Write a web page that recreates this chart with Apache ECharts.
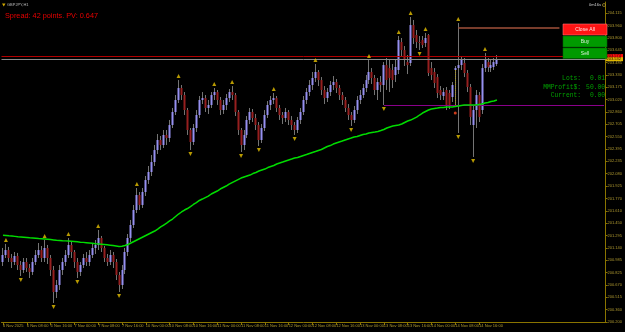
<!DOCTYPE html>
<html><head><meta charset="utf-8">
<script src="https://cdn.jsdelivr.net/npm/echarts@6/dist/echarts.min.js"></script>
<style>html,body{margin:0;padding:0;background:#000;overflow:hidden}#c{width:625px;height:332px}</style>
</head><body><div id="c"></div>
<script>
const yTickLabels = ["200.200","200.360","200.515","200.670","200.825","200.985","201.140","201.295","201.450","201.610","201.770","201.925","202.080","202.235","202.395","202.550","202.705","202.860","203.020","203.175","203.330","203.485","203.645","203.800","203.960","204.115"];
const xTickLabels = ["6 Nov 2025","6 Nov 08:00","6 Nov 16:00","7 Nov 00:00","7 Nov 08:00","7 Nov 16:00","10 Nov 00:00","10 Nov 08:00","10 Nov 16:00","11 Nov 00:00","11 Nov 08:00","11 Nov 16:00","12 Nov 00:00","12 Nov 08:00","12 Nov 16:00","13 Nov 00:00","13 Nov 08:00","13 Nov 16:00","14 Nov 00:00","14 Nov 08:00","14 Nov 16:00"];
// [open, close, low, high] per H1 bar
const candles = [
[200.960,201.049,200.910,201.138],[201.049,201.112,201.011,201.189],[201.112,201.011,200.960,201.151],[201.011,200.960,200.884,201.062],
[200.960,201.036,200.922,201.087],[201.036,200.922,200.859,201.075],[200.922,200.859,200.783,200.973],[200.859,200.960,200.821,201.011],
[200.960,200.884,200.834,201.011],[200.884,200.834,200.757,200.935],[200.834,200.960,200.796,201.011],[200.960,201.049,200.922,201.112],
[201.049,201.112,201.011,201.201],[201.112,201.011,200.960,201.163],[201.011,201.138,200.960,201.239],[201.138,201.011,200.935,201.176],
[201.011,200.859,200.783,201.049],[200.859,200.580,200.441,200.910],[200.580,200.669,200.504,200.732],[200.669,200.859,200.606,200.922],
[200.859,200.960,200.796,201.011],[200.960,201.049,200.910,201.112],[201.049,201.176,201.011,201.265],[201.176,201.087,201.011,201.214],
[201.087,200.960,200.884,201.112],[200.960,200.834,200.757,201.011],[200.834,200.922,200.783,200.960],[200.922,201.011,200.884,201.062],
[201.011,200.960,200.910,201.087],[200.960,201.049,200.910,201.112],[201.049,201.138,201.011,201.189],[201.138,201.176,201.062,201.239],
[201.176,201.265,201.112,201.366],[201.265,201.138,201.087,201.290],[201.138,201.011,200.960,201.163],[201.011,200.960,200.910,201.062],
[200.960,201.049,200.922,201.112],[201.049,200.960,200.884,201.087],[200.960,200.796,200.732,200.998],[200.796,200.669,200.580,200.834],
[200.669,200.859,200.618,200.922],[200.859,201.087,200.808,201.138],[201.087,201.265,201.036,201.315],[201.265,201.429,201.214,201.493],
[201.429,201.619,201.391,201.683],[201.619,201.809,201.581,201.898],[201.809,201.683,201.619,201.847],[201.683,201.847,201.645,201.898],
[201.847,201.999,201.797,202.050],[201.999,202.101,201.949,202.177],[202.101,202.227,202.050,202.316],[202.227,202.379,202.177,202.443],
[202.379,202.506,202.329,202.582],[202.506,202.443,202.379,202.557],[202.443,202.570,202.405,202.633],[202.570,202.532,202.443,202.633],
[202.532,202.696,202.481,202.760],[202.696,202.861,202.658,202.912],[202.861,203.013,202.823,203.076],[203.013,203.165,202.975,203.266],
[203.165,203.076,203.013,203.203],[203.076,202.886,202.823,203.114],[202.886,202.633,202.570,202.912],[202.633,202.481,202.379,202.658],
[202.481,202.658,202.443,202.709],[202.658,202.823,202.608,202.886],[202.823,203.013,202.785,203.064],[203.013,203.038,202.962,203.114],
[203.038,202.912,202.861,203.076],[202.912,202.950,202.836,203.013],[202.950,203.076,202.912,203.114],[203.076,203.114,203.013,203.165],
[203.114,203.013,202.950,203.140],[203.013,202.886,202.823,203.051],[202.886,202.950,202.836,203.013],[202.950,203.038,202.886,203.089],
[203.038,203.114,202.988,203.152],[203.114,203.076,203.013,203.190],[203.076,202.861,202.810,203.102],[202.861,202.633,202.570,202.886],
[202.633,202.443,202.354,202.658],[202.443,202.570,202.379,202.633],[202.570,202.760,202.532,202.810],[202.760,202.861,202.709,202.912],
[202.861,202.785,202.734,202.899],[202.785,202.696,202.633,202.836],[202.696,202.506,202.430,202.734],[202.506,202.658,202.468,202.709],
[202.658,202.823,202.620,202.886],[202.823,202.950,202.785,203.000],[202.950,203.013,202.886,203.064],[203.013,203.038,202.962,203.102],
[203.038,202.912,202.861,203.064],[202.912,202.823,202.760,202.950],[202.823,202.785,202.709,202.861],[202.785,202.861,202.734,202.912],
[202.861,202.760,202.696,202.886],[202.760,202.696,202.633,202.810],[202.696,202.633,202.570,202.734],[202.633,202.760,202.595,202.798],
[202.760,202.861,202.709,202.912],[202.861,203.013,202.823,203.064],[203.013,203.114,202.962,203.165],[203.114,203.203,203.064,203.266],
[203.203,203.292,203.140,203.368],[203.292,203.368,203.241,203.469],[203.368,203.266,203.190,203.393],[203.266,203.140,203.076,203.304],
[203.140,203.038,202.962,203.190],[203.038,203.114,202.988,203.165],[203.114,203.203,203.064,203.254],[203.203,203.241,203.140,203.317],
[203.241,203.165,203.102,203.279],[203.165,203.076,203.013,203.203],[203.076,203.013,202.950,203.114],[203.013,202.912,202.861,203.051],
[202.912,202.823,202.760,202.962],[202.823,202.760,202.684,202.861],[202.760,202.886,202.722,202.937],[202.886,203.013,202.836,203.064],
[203.013,203.076,202.962,203.140],[203.076,203.165,203.038,203.216],[203.165,203.266,203.114,203.330],[203.266,203.368,203.216,203.520],
[203.368,203.292,203.216,203.418],[203.292,203.140,203.076,203.330],[203.140,203.241,203.013,203.292],[203.241,203.203,203.114,203.317],
[203.203,203.456,202.950,203.494],[203.456,203.266,203.140,203.545],[203.418,203.292,203.114,203.520],[203.393,203.266,203.165,203.469],
[203.330,203.431,203.241,203.520],[203.393,203.773,203.342,203.824],[203.748,203.646,203.570,203.799],[203.646,203.520,203.444,203.697],
[203.494,203.456,203.342,203.583],[203.482,203.963,203.444,204.065],[203.963,203.799,203.723,204.027],[203.837,203.748,203.672,203.900],
[203.748,203.735,203.646,203.824],[203.773,203.710,203.672,203.824],[203.735,203.799,203.685,203.862],[203.837,203.355,203.317,203.849],
[203.418,203.330,203.266,203.494],[203.368,203.228,203.165,203.418],[203.304,203.102,203.038,203.342],[203.140,203.076,203.013,203.190],
[203.064,203.114,203.013,203.165],[203.140,202.950,202.886,203.178],[203.102,202.950,202.899,203.140],[203.051,203.203,202.988,203.241],
[203.393,203.418,202.924,203.444],[203.418,203.456,202.595,203.989],[203.456,203.520,203.393,203.570],[203.482,203.355,203.304,203.545],
[203.355,203.178,203.114,203.393],[203.178,202.798,202.696,203.216],[202.696,202.886,202.291,202.937],[202.886,203.076,202.658,203.140],
[203.076,202.798,202.734,203.114],[202.886,203.418,202.836,203.469],[203.418,203.520,203.368,203.608],[203.494,203.431,203.368,203.545],
[203.418,203.456,203.368,203.520],[203.431,203.494,203.393,203.545],[203.469,203.532,203.444,203.583]
];
const maValues = [
201.300,201.296,201.292,201.289,201.285,201.281,201.278,201.275,201.272,201.268,
201.265,201.262,201.258,201.255,201.252,201.248,201.244,201.240,201.236,201.233,
201.230,201.228,201.225,201.222,201.219,201.216,201.212,201.209,201.205,201.201,
201.197,201.193,201.190,201.186,201.182,201.178,201.173,201.168,201.162,201.156,
201.160,201.169,201.182,201.201,201.220,201.239,201.258,201.277,201.296,201.315,201.334,
201.353,201.378,201.404,201.429,201.454,201.480,201.505,201.537,201.568,201.594,
201.619,201.638,201.663,201.689,201.714,201.740,201.758,201.777,201.796,201.822,
201.841,201.860,201.885,201.904,201.923,201.948,201.967,201.986,202.005,202.024,
202.037,202.050,202.062,202.081,202.094,202.113,202.126,202.138,202.157,202.170,
202.183,202.202,202.215,202.227,202.240,202.253,202.265,202.278,202.284,202.297,
202.310,202.322,202.335,202.348,202.360,202.373,202.386,202.405,202.424,202.436,
202.455,202.468,202.481,202.493,202.506,202.519,202.531,202.544,202.550,202.563,
202.576,202.582,202.595,202.601,202.607,202.614,202.626,202.639,202.658,202.671,
202.683,202.690,202.696,202.709,202.728,202.747,202.759,202.778,202.797,202.823,
202.848,202.867,202.886,202.899,202.905,202.911,202.918,202.918,202.924,202.924,
202.924,202.930,202.937,202.943,202.949,202.949,202.949,202.949,202.949,202.956,
202.962,202.975,202.981,202.994,203.000,203.013
];
const upFractals = [1,14,22,32,45,59,71,77,91,105,123,133,137,142,153,162];
const downFractals = [6,17,25,39,63,80,86,98,117,128,140,153,158];
const askPrice = 203.574, bidPrice = 203.532;
const supportLevel = 202.950, supportFrom = 128;
const resistLevel = 203.925, resistFrom = 153, resistTo = 187;
const dotBar = 152, dotTop = 203.393, dotBottom = 202.924;
const orderMark = [152, 202.848];
const slotCount = 203;

const slots = [];
for (let i = 0; i < slotCount; i++) slots.push(String(i));

const AX = '#8a7400', LBL = '#b09a30', FONT = 'Liberation Sans';
const chart = echarts.init(document.getElementById('c'), null, {renderer: 'canvas'});
const isLabelIdx = i => i % 8 === 0 && i / 8 < xTickLabels.length;

function renderCandle(params, api) {
  const i = api.value(0), o = api.value(1), c = api.value(2), l = api.value(3), h = api.value(4);
  const po = api.coord([i, o]), pc = api.coord([i, c]), pl = api.coord([i, l]), ph = api.coord([i, h]);
  const cx = Math.floor(po[0]);
  const top = Math.min(po[1], pc[1]), bot = Math.max(po[1], pc[1]);
  const up = c >= o;
  return {type: 'group', children: [
    {type: 'line', shape: {x1: cx + 0.5, y1: ph[1], x2: cx + 0.5, y2: pl[1]}, style: {stroke: '#747474', lineWidth: 1}},
    {type: 'rect', shape: {x: cx - 0.5, y: top, width: 2, height: Math.max(bot - top, 1)}, style: {fill: up ? '#9690f0' : '#961f1f'}}
  ]};
}

const option = {
  animation: false,
  backgroundColor: '#000',
  grid: {left: 0, right: 17, top: 2, bottom: 10},
  xAxis: {
    type: 'category', data: slots, boundaryGap: true,
    axisLine: {lineStyle: {color: AX, width: 1}},
    axisTick: {show: true, alignWithLabel: true, length: 3, interval: (i) => isLabelIdx(i), lineStyle: {color: AX}},
    axisLabel: {interval: (i) => isLabelIdx(i), formatter: (v, i) => isLabelIdx(i) ? xTickLabels[i / 8] : '',
      fontSize: 4, fontFamily: FONT, color: LBL, align: 'left', margin: 2},
    splitLine: {show: false}
  },
  yAxis: [
    {type: 'value', min: 200.2, max: 204.255, show: false, scale: true, splitLine: {show: false}},
    {type: 'value', position: 'right', min: 0, max: 25.9, interval: 1,
      axisLine: {show: true, lineStyle: {color: AX}},
      axisTick: {show: true, length: 2, lineStyle: {color: AX}},
      axisLabel: {fontSize: 4, fontFamily: FONT, color: LBL, margin: 2, showMaxLabel: false,
        formatter: v => Math.abs(v - Math.round(v)) < 1e-6 && yTickLabels[Math.round(v)] ? yTickLabels[Math.round(v)] : ''},
      splitLine: {show: false}}
  ],
  series: [
    {type: 'custom', name: 'candles', renderItem: renderCandle, yAxisIndex: 0, z: 3,
      data: candles.map((d, i) => [i, d[0], d[1], d[2], d[3]]), encode: {x: 0, y: [1, 2, 3, 4]}},
    {type: 'line', name: 'MA', data: maValues, yAxisIndex: 0, symbol: 'none', z: 5,
      lineStyle: {color: '#00dc00', width: 1.5}, itemStyle: {color: '#00dc00'},
      markLine: {symbol: ['none', 'none'], silent: true, animation: false, z: 4,
        data: [
          {yAxis: askPrice, lineStyle: {color: '#b00000', width: 1, type: 'solid'},
            label: {show: true, position: 'end', distance: 0, formatter: askPrice.toFixed(3), backgroundColor: '#ff1010', color: '#300', fontSize: 4, fontFamily: FONT, padding: [0, 2, 0, 1]}},
          {yAxis: bidPrice, lineStyle: {color: '#8a8a8a', width: 1, type: 'solid'},
            label: {show: true, position: 'end', distance: 0, formatter: bidPrice.toFixed(3), backgroundColor: '#e0b800', color: '#300', fontSize: 4, fontFamily: FONT, padding: [0, 2, 0, 1]}},
          [{coord: [supportFrom, supportLevel], lineStyle: {color: '#8a008a', width: 1, type: 'solid'}, label: {show: false}}, {coord: [slotCount - 1, supportLevel]}],
          [{coord: [resistFrom, resistLevel], lineStyle: {color: '#a0503a', width: 1.5, type: 'solid'}, label: {show: false}}, {coord: [resistTo, resistLevel]}],
          [{coord: [dotBar, dotTop], lineStyle: {color: '#b09a20', width: 1, type: [1, 1]}, label: {show: false}}, {coord: [dotBar, dotBottom]}]
        ]}},
    {type: 'scatter', name: 'up fractals', yAxisIndex: 0, z: 6, symbol: 'triangle', symbolSize: [4, 4], symbolOffset: [0, -4],
      itemStyle: {color: '#e6c000'}, data: upFractals.map(i => [i, candles[i][3]])},
    {type: 'scatter', name: 'down fractals', yAxisIndex: 0, z: 6, symbol: 'triangle', symbolRotate: 180, symbolSize: [4, 4], symbolOffset: [0, 4],
      itemStyle: {color: '#e6c000'}, data: downFractals.map(i => [i, candles[i][2]])},
    {type: 'scatter', name: 'order', yAxisIndex: 0, z: 6, symbol: 'circle', symbolSize: 3,
      itemStyle: {color: '#ff4a20'}, data: [orderMark]}
  ],
  graphic: [
    {type: 'polygon', z: 100, shape: {points: [[2, 3.5], [5.5, 3.5], [3.75, 6.5]]}, style: {fill: '#d0a800'}},
    {type: 'text', z: 100, x: 7, y: 5, style: {text: 'GBPJPY,H1', font: '4px Liberation Sans', fill: '#b8b8b8', verticalAlign: 'middle'}},
    {type: 'text', z: 100, x: 5, y: 16, style: {text: 'Spread: 42 points. PV: 0.647', font: '7.3px Liberation Sans', fill: '#e80000', verticalAlign: 'middle'}},
    {type: 'text', z: 100, x: 601, y: 5, style: {text: '0m16s', font: '4px Liberation Sans', fill: '#d0d0d0', align: 'right', verticalAlign: 'middle'}},
    {type: 'circle', z: 100, shape: {cx: 604, cy: 5, r: 1.5}, style: {fill: 'none', stroke: '#b09a30', lineWidth: 0.7}},
    {type: 'rect', z: 100, shape: {x: 563, y: 24, width: 44, height: 11}, style: {fill: '#ff1414', stroke: '#ff7070', lineWidth: 0.6}},
    {type: 'text', z: 101, x: 585, y: 29.5, style: {text: 'Close All', font: '5px Liberation Sans', fill: '#ffe8e8', align: 'center', verticalAlign: 'middle'}},
    {type: 'rect', z: 100, shape: {x: 563, y: 36, width: 44, height: 11}, style: {fill: '#009a00', stroke: '#006400', lineWidth: 0.6}},
    {type: 'text', z: 101, x: 585, y: 41.5, style: {text: 'Buy', font: '5px Liberation Sans', fill: '#d8f0d8', align: 'center', verticalAlign: 'middle'}},
    {type: 'rect', z: 100, shape: {x: 563, y: 48, width: 44, height: 10.5}, style: {fill: '#009a00', stroke: '#006400', lineWidth: 0.6}},
    {type: 'text', z: 101, x: 585, y: 53.2, style: {text: 'Sell', font: '5px Liberation Sans', fill: '#d8f0d8', align: 'center', verticalAlign: 'middle'}},
    {type: 'text', z: 100, x: 581, y: 78, style: {text: 'Lots:', font: '6.3px Liberation Mono', fill: '#00a000', align: 'right', verticalAlign: 'middle'}},
    {type: 'text', z: 100, x: 605, y: 78, style: {text: '0.01', font: '6.3px Liberation Mono', fill: '#00a000', align: 'right', verticalAlign: 'middle'}},
    {type: 'text', z: 100, x: 581, y: 87, style: {text: 'MMProfit$:', font: '6.3px Liberation Mono', fill: '#00a000', align: 'right', verticalAlign: 'middle'}},
    {type: 'text', z: 100, x: 605, y: 87, style: {text: '50.00', font: '6.3px Liberation Mono', fill: '#00a000', align: 'right', verticalAlign: 'middle'}},
    {type: 'text', z: 100, x: 581, y: 95.5, style: {text: 'Current:', font: '6.3px Liberation Mono', fill: '#00a000', align: 'right', verticalAlign: 'middle'}},
    {type: 'text', z: 100, x: 605, y: 95.5, style: {text: '0.00', font: '6.3px Liberation Mono', fill: '#00a000', align: 'right', verticalAlign: 'middle'}}
  ]
};
chart.setOption(option);
</script>
</body></html>
